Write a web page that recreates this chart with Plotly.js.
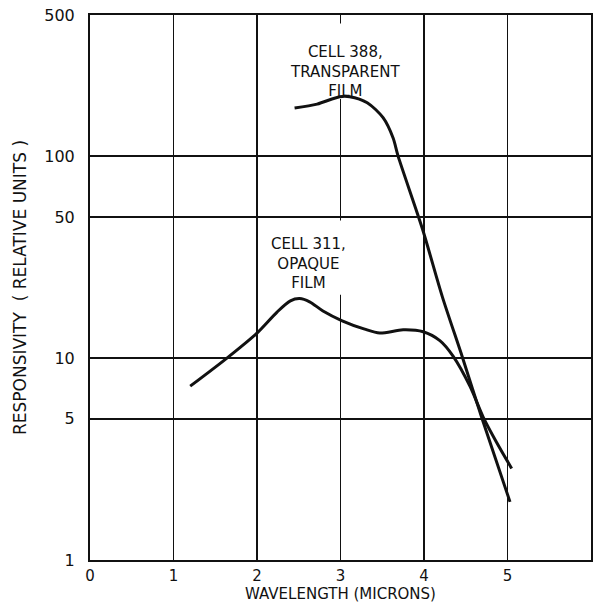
<!DOCTYPE html>
<html>
<head>
<meta charset="utf-8">
<script src="https://cdn.plot.ly/plotly-3.0.1.min.js"></script>
<style>html,body{margin:0;padding:0;background:#fff;}</style>
</head>
<body>
<div id="chart" style="width:595px;height:605px;"></div>
<script>
// Cell 388, transparent film
const cell388Wavelength = [2.45, 2.72, 2.99, 3.11, 3.32, 3.51, 3.63, 3.69, 3.98, 4.22, 4.46, 4.69, 5.03];
const cell388Response   = [173, 181, 197, 197, 184, 155, 123, 100, 43.8, 20.1, 10.1, 5.09, 1.94];

// Cell 311, opaque film
const cell311Wavelength = [1.20, 1.64, 2.00, 2.24, 2.40, 2.51, 2.63, 2.79, 3.02, 3.29, 3.47, 3.75, 3.99, 4.19, 4.35, 4.55, 4.71, 4.87, 5.05];
const cell311Response   = [7.26, 10.0, 13.3, 16.9, 19.2, 19.7, 19.0, 17.1, 15.3, 13.9, 13.3, 13.8, 13.5, 12.2, 10.2, 7.26, 5.09, 3.82, 2.84];

const yTickVals = [1, 5, 10, 50, 100, 500];
const yTickText = ["1", "5", "10", "50", "100", "500"];
const xTickVals = [0, 1, 2, 3, 4, 5, 6];
const xTickText = ["0", "1", "2", "3", "4", "5", "6"];

const FONT = "DejaVu Sans, sans-serif";
const INK = "#111";
const L = Math.log10;

const traces = [
  {x: cell388Wavelength, y: cell388Response, mode: "lines", name: "Cell 388",
   line: {color: INK, width: 3, shape: "spline", smoothing: 0.8}},
  {x: cell311Wavelength, y: cell311Response, mode: "lines", name: "Cell 311",
   line: {color: INK, width: 3, shape: "spline", smoothing: 0.8}}
];

// annotation y on a log axis is given in log10 units
function lbl(text, x, yval) {
  return {text: text, x: x, y: L(yval), xref: "x", yref: "y", showarrow: false, align: "center",
          font: {family: FONT, size: 15, color: INK}, xanchor: "center", yanchor: "middle"};
}
const pxVal = p => 10 ** ((560 - p) / 201);

const layout = {
  width: 595, height: 605,
  margin: {l: 90, r: 4, t: 15, b: 45},
  paper_bgcolor: "#fff", plot_bgcolor: "#fff",
  showlegend: false,
  font: {family: FONT, color: INK},
  xaxis: {
    range: [0, 6], tickvals: xTickVals, ticktext: xTickText,
    showgrid: true, gridcolor: INK, gridwidth: 1.5, zeroline: false,
    showline: true, mirror: true, linecolor: INK, linewidth: 2,
    ticks: "", ticklabelstandoff: 1,
    tickfont: {family: FONT, size: 15, color: INK},
    title: {text: "WAVELENGTH (MICRONS)", font: {family: FONT, size: 15, color: INK}, standoff: 0}
  },
  yaxis: {
    type: "log", range: [0, L(500)],
    tickvals: yTickVals, ticktext: yTickText,
    showgrid: true, gridcolor: INK, gridwidth: 1.5, zeroline: false,
    showline: true, mirror: true, linecolor: INK, linewidth: 2,
    ticks: "", ticklabelstandoff: 10,
    tickfont: {family: FONT, size: 16, color: INK},
    title: {text: "RESPONSIVITY  ( RELATIVE UNITS )", font: {family: FONT, size: 17, color: INK}, standoff: 13}
  },
  shapes: [
    {type: "rect", layer: "between", xref: "x", yref: "y", x0: 2.3, x1: 3.8, y0: pxVal(101), y1: pxVal(26),
     fillcolor: "#fff", line: {width: 0}},
    {type: "rect", layer: "between", xref: "x", yref: "y", x0: 2.2, x1: 3.3, y0: pxVal(296), y1: pxVal(222),
     fillcolor: "#fff", line: {width: 0}}
  ],
  annotations: [
    lbl("CELL 388,<br>TRANSPARENT<br>FILM", 3.054, pxVal(74)),
    lbl("CELL 311,<br>OPAQUE<br>FILM", 2.62, pxVal(265))
  ]
};

Plotly.newPlot("chart", traces, layout, {staticPlot: true, displayModeBar: false});
</script>
</body>
</html>
